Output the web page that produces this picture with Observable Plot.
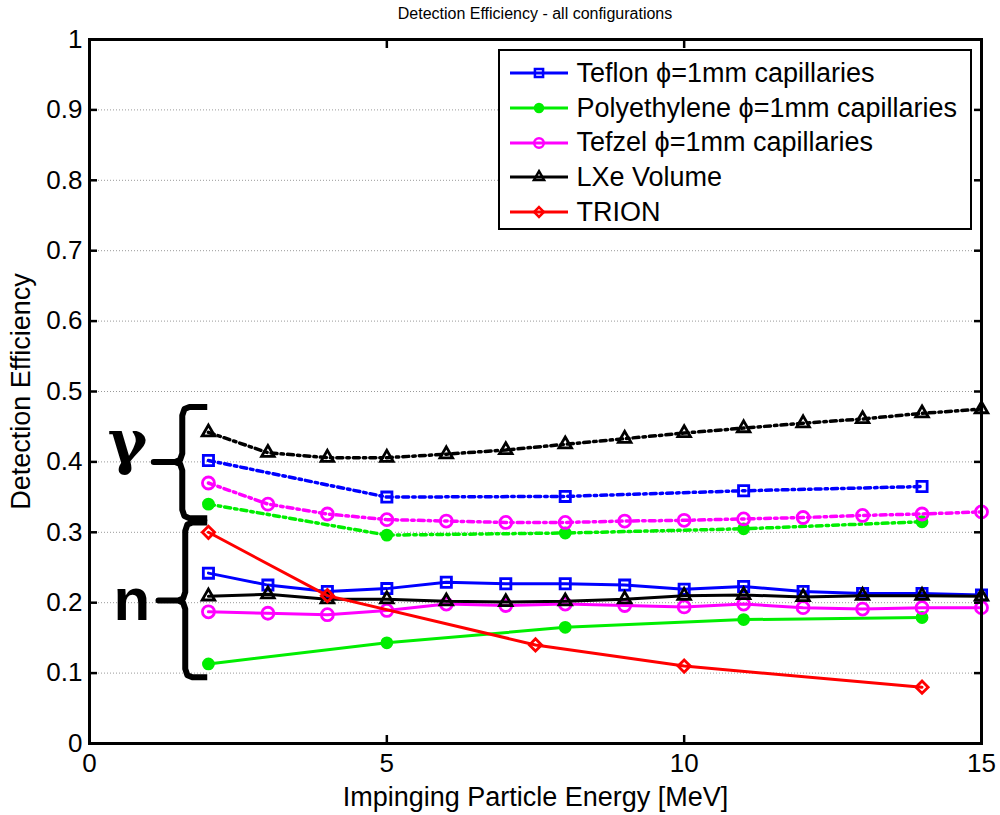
<!DOCTYPE html>
<html><head><meta charset="utf-8">
<script src="https://cdn.jsdelivr.net/npm/d3@7"></script>
<script src="https://cdn.jsdelivr.net/npm/@observablehq/plot@0.6"></script>
<style>
body{margin:0;background:#fff;font-family:"Liberation Sans",Arial,sans-serif;}
#wrap{position:relative;width:1000px;height:815px;overflow:hidden;}
#title{height:28px;line-height:28px;font-size:16px;text-align:center;padding-left:89px;padding-right:19px;box-sizing:border-box;width:1000px;color:#000;}
#legend{position:absolute;left:498px;top:49px;width:474px;height:181px;box-sizing:border-box;border:2.5px solid #000;background:#fff;padding-top:5px;}
.row{height:34.7px;display:flex;align-items:center;font-size:27px;color:#000;white-space:nowrap;}
.row svg{margin-left:9.5px;margin-right:9px;flex:none;}
</style></head><body>
<div id="wrap">
<div id="title">Detection Efficiency - all configurations</div>
<div id="chart"></div>
<div id="legend"></div>
</div>
<script>
// ---------- data ----------
const energyFull   = [2,3,4,5,6,7,8,9,10,11,12,13,14,15];
const energySparse = [2,5,8,11,14];
const energyTrion  = [2,4,7.5,10,14];

// gamma (dash-dot) series
const teflonGamma = [0.402,0.350,0.351,0.359,0.365];
const polyGamma   = [0.340,0.296,0.299,0.305,0.315];
const tefzelGamma = [0.370,0.340,0.326,0.318,0.316,0.314,0.314,0.316,0.317,0.319,0.321,0.324,0.326,0.329];
const lxeGamma    = [0.442,0.413,0.406,0.406,0.411,0.417,0.425,0.433,0.441,0.448,0.455,0.461,0.469,0.475];

// neutron (solid) series
const teflonN = [0.242,0.225,0.216,0.220,0.229,0.227,0.227,0.225,0.219,0.223,0.216,0.213,0.213,0.211];
const polyN   = [0.113,0.143,0.165,0.176,0.179];
const tefzelN = [0.187,0.185,0.183,0.189,0.198,0.196,0.198,0.196,0.194,0.198,0.193,0.191,0.193,0.193];
const lxeN    = [0.209,0.212,0.205,0.205,0.202,0.201,0.202,0.205,0.210,0.211,0.208,0.210,0.210,0.209];
const trionN  = [0.300,0.210,0.140,0.110,0.080];

const seriesNames = ["Teflon \u03D5=1mm capillaries","Polyethylene \u03D5=1mm capillaries","Tefzel \u03D5=1mm capillaries","LXe Volume","TRION"];
const xTicks = [0,5,10,15];
const yTicks = [0,0.1,0.2,0.3,0.4,0.5,0.6,0.7,0.8,0.9,1];
const yTickLabels = ["0","0.1","0.2","0.3","0.4","0.5","0.6","0.7","0.8","0.9","1"];

// annotation braces
const braceLabels = ["\u03B3","n"];
const braceTop    = [0.478,0.314];
const braceMid    = [0.400,0.203];
const braceBottom = [0.320,0.094];
const braceSpineX = [1.56,1.61];
const braceTipX   = [1.08,1.16];
const braceHookX  = [1.98,1.98];
const braceLabelX = [0.64,0.71];

// ---------- styles ----------
const seriesColors  = ["#0000ff","#00ee00","#ff00ff","#000000","#ff0000"];
const seriesSymbols = ["square2","circle","circle","triangle2","diamond2"];
const seriesFills   = ["none","#00ee00","none","none","none"];
const seriesR       = [6.5,5,6,6,5.5];
const gammaDash = "6,4,2.5,4";

const sets = [
  {s:0, dash:true,  xs:energySparse, ys:teflonGamma},
  {s:1, dash:true,  xs:energySparse, ys:polyGamma},
  {s:2, dash:true,  xs:energyFull,   ys:tefzelGamma},
  {s:3, dash:true,  xs:energyFull,   ys:lxeGamma},
  {s:0, dash:false, xs:energyFull,   ys:teflonN},
  {s:1, dash:false, xs:energySparse, ys:polyN},
  {s:2, dash:false, xs:energyFull,   ys:tefzelN},
  {s:3, dash:false, xs:energyFull,   ys:lxeN},
  {s:4, dash:false, xs:energyTrion,  ys:trionN}
];

const seriesMarks = sets.flatMap(({s, dash, xs, ys}) => {
  const rows = xs.map((x,i) => ({x, y: ys[i]}));
  const lineOpts = {x:"x", y:"y", stroke: seriesColors[s], strokeWidth: dash ? 3.5 : 3, strokeLinejoin:"round"};
  if (dash) lineOpts.strokeDasharray = gammaDash;
  return [
    Plot.line(rows, lineOpts),
    Plot.dot(rows, {x:"x", y:"y", symbol: seriesSymbols[s], r: seriesR[s], stroke: seriesColors[s], fill: seriesFills[s], strokeWidth: 2.8})
  ];
});

// brace polylines built from annotation arrays
const cx = 0.12, cy = 0.012;
const braceRows = braceLabels.flatMap((lab, i) => {
  const xv = braceSpineX[i], xt = braceTipX[i], xh = braceHookX[i];
  const t = braceTop[i], m = braceMid[i], b = braceBottom[i];
  const pts = [
    [xh, t],[xv+cx, t],[xv+cx*0.3, t-cy*0.25],[xv, t-cy],
    [xv, m+cy],[xv-cx*0.3, m+cy*0.25],[xv-cx, m],[xt, m],[xv-cx, m],[xv-cx*0.3, m-cy*0.25],[xv, m-cy],
    [xv, b+cy],[xv+cx*0.3, b+cy*0.25],[xv+cx, b],[xh, b]
  ];
  return pts.map(([x,y]) => ({x, y, k: lab}));
});
const labelRows = braceLabels.map((lab,i) => ({x: braceLabelX[i], y: braceMid[i], lab}));

const chart = Plot.plot({
  width: 1000, height: 787,
  marginTop: 11, marginBottom: 72, marginLeft: 89, marginRight: 19,
  x: {domain: [0,15]},
  y: {domain: [0,1]},
  style: {fontFamily: '"Liberation Sans", Arial, sans-serif', background: "white", color: "black", overflow: "visible"},
  marks: [
    Plot.ruleY(yTicks.slice(1,-1), {stroke: "#999", strokeDasharray: "1,2", strokeWidth: 1}),
    ...seriesMarks,
    Plot.line(braceRows, {x:"x", y:"y", z:"k", stroke:"black", strokeWidth: 6, strokeLinejoin:"round", strokeLinecap:"butt"}),
    Plot.text(labelRows.filter(d => d.lab === "\u03B3"), {x:"x", y:"y", text:"lab", fontSize: 60, fontWeight:"bold", fontFamily:'"DejaVu Serif", "Liberation Serif", serif', lineAnchor:"bottom", dy: 1}),
    Plot.text(labelRows.filter(d => d.lab === "n"), {x:"x", y:"y", text:"lab", fontSize: 60, fontWeight:"bold", lineAnchor:"bottom", dy: 19}),
    // tick marks (inside)
    Plot.axisY(yTicks, {anchor:"left", tickSize: 8, dx: 8, fill:"none", strokeWidth: 2.5, label: null}),
    Plot.axisY(yTicks, {anchor:"right", tickSize: 8, dx: -8, fill:"none", strokeWidth: 2.5, label: null}),
    Plot.axisX(xTicks, {anchor:"bottom", tickSize: 8, dy: -8, fill:"none", strokeWidth: 2.5, label: null}),
    Plot.axisX(xTicks, {anchor:"top", tickSize: 8, dy: 8, fill:"none", strokeWidth: 2.5, label: null}),
    // tick labels
    Plot.axisY(yTicks, {anchor:"left", tickSize: 0, tickPadding: 7, fontSize: 26, tickFormat: d => yTickLabels[yTicks.indexOf(d)], label: null}),
    Plot.axisX(xTicks, {anchor:"bottom", tickSize: 0, tickPadding: 10, fontSize: 26, tickFormat: d => String(d), label: null}),
    // axis titles
    Plot.text(["Impinging Particle Energy [MeV]"], {frameAnchor:"bottom", lineAnchor:"middle", textAnchor:"middle", dy: 54, fontSize: 27}),
    Plot.text(["Detection Efficiency"], {frameAnchor:"left", lineAnchor:"middle", textAnchor:"middle", dx: -68, rotate: -90, fontSize: 27}),
    Plot.frame({stroke:"black", strokeWidth: 3})
  ]
});
document.getElementById("chart").appendChild(chart);

// ---------- legend ----------
const symbolTypes = {square2: d3.symbolSquare2, circle: d3.symbolCircle, triangle2: d3.symbolTriangle2, diamond2: d3.symbolDiamond2};
const legend = d3.select("#legend");
seriesNames.forEach((name, i) => {
  const row = legend.append("div").attr("class","row");
  const svg = row.append("svg").attr("width",58).attr("height",20);
  svg.append("line").attr("x1",0).attr("x2",58).attr("y1",10).attr("y2",10)
    .attr("stroke", seriesColors[i]).attr("stroke-width",3);
  const rr = seriesR[i]*0.8;
  svg.append("path").attr("transform","translate(29,10)")
    .attr("d", d3.symbol(symbolTypes[seriesSymbols[i]], Math.PI*rr*rr)())
    .attr("fill", seriesFills[i])
    .attr("stroke", seriesColors[i]).attr("stroke-width",2.5);
  row.append("span").text(name);
});
</script>
</body></html>
